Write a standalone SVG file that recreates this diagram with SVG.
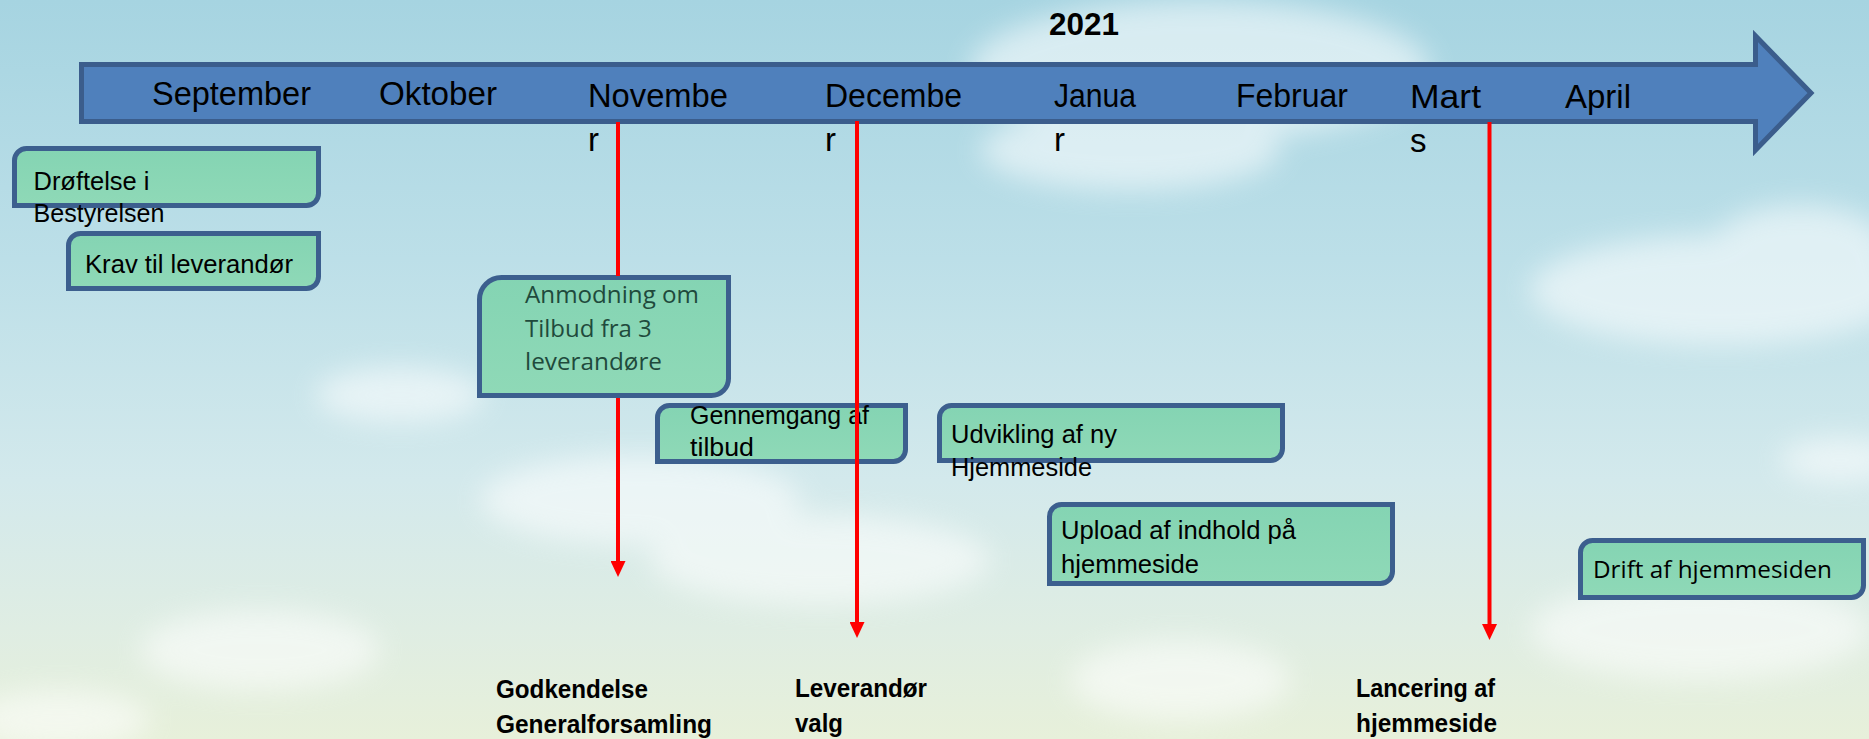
<svg xmlns="http://www.w3.org/2000/svg" width="1869" height="739" viewBox="0 0 1869 739">
<defs>
<linearGradient id="sky" x1="0" y1="0" x2="0" y2="1">
<stop offset="0" stop-color="#a6d4e1"/>
<stop offset="0.35" stop-color="#bcdfe8"/>
<stop offset="0.65" stop-color="#d3e9ec"/>
<stop offset="0.85" stop-color="#dfede3"/>
<stop offset="1" stop-color="#e7f0da"/>
</linearGradient>
<linearGradient id="boxfill" x1="0" y1="0" x2="0" y2="1">
<stop offset="0" stop-color="#84d4b3"/>
<stop offset="1" stop-color="#8fd9b7"/>
</linearGradient>
<filter id="blur" x="-20%" y="-40%" width="140%" height="180%"><feGaussianBlur stdDeviation="14"/></filter>
<marker id="redhead" viewBox="0 0 16 15" refX="0" refY="7.5" markerWidth="16" markerHeight="15" markerUnits="userSpaceOnUse" orient="auto">
<path d="M0,0 L16,7.5 L0,15 Z" fill="#ff0000"/>
</marker>
<style>
.month{font-family:"Liberation Sans",Arial,sans-serif;font-size:33px;fill:#000;}
.box{fill:url(#boxfill);stroke:#3c5f8e;stroke-width:5;}
.bt{font-family:"Liberation Sans",Arial,sans-serif;font-size:26px;fill:#000;}
.ot{font-family:"Open Sans",sans-serif;font-size:24px;}
.lbl{font-family:"Liberation Sans",Arial,sans-serif;font-size:25px;font-weight:bold;fill:#000;}
.red{stroke:#ff0000;stroke-width:4;fill:none;}
.cloud{fill:#ffffff;}
</style>
</defs>

<g id="background">
<rect x="0" y="0" width="1869" height="739" fill="url(#sky)"/>
<g filter="url(#blur)" opacity="0.55">
<ellipse class="cloud" cx="1200" cy="70" rx="230" ry="70"/>
<ellipse class="cloud" cx="1130" cy="150" rx="150" ry="40"/>
<ellipse class="cloud" cx="1720" cy="290" rx="190" ry="55"/>
<ellipse class="cloud" cx="1800" cy="250" rx="90" ry="45"/>
<ellipse class="cloud" cx="1840" cy="460" rx="60" ry="22"/>
<ellipse class="cloud" cx="400" cy="395" rx="85" ry="28"/>
<ellipse class="cloud" cx="640" cy="500" rx="160" ry="45"/>
<ellipse class="cloud" cx="820" cy="560" rx="170" ry="45"/>
<ellipse class="cloud" cx="260" cy="650" rx="120" ry="40"/>
<ellipse class="cloud" cx="60" cy="720" rx="90" ry="30"/>
<ellipse class="cloud" cx="1180" cy="680" rx="110" ry="40"/>
<ellipse class="cloud" cx="1700" cy="630" rx="170" ry="50"/>
</g>
</g>

<g id="timeline-arrow">
<path d="M81.5,64.5 H1755.5 V36 L1811,93 L1755.5,150 V121.5 H81.5 Z" fill="#4f80bc" stroke="#3b5d8c" stroke-width="5" stroke-linejoin="miter"/>
<text class="month" x="152" y="105" textLength="159" lengthAdjust="spacingAndGlyphs">September</text>
<text class="month" x="379" y="105" textLength="118" lengthAdjust="spacingAndGlyphs">Oktober</text>
<text class="month" x="588" y="107" textLength="140" lengthAdjust="spacingAndGlyphs">Novembe</text>
<text class="month" x="588" y="151">r</text>
<text class="month" x="825" y="107" textLength="137" lengthAdjust="spacingAndGlyphs">Decembe</text>
<text class="month" x="825" y="151">r</text>
<text class="month" x="1054" y="107" textLength="82" lengthAdjust="spacingAndGlyphs">Janua</text>
<text class="month" x="1054" y="151">r</text>
<text class="month" x="1236" y="107" textLength="112" lengthAdjust="spacingAndGlyphs">Februar</text>
<text class="month" x="1410" y="108" textLength="71" lengthAdjust="spacingAndGlyphs">Mart</text>
<text class="month" x="1410" y="152">s</text>
<text class="month" x="1565" y="108" textLength="66" lengthAdjust="spacingAndGlyphs">April</text>
</g>

<g id="year">
<text x="1049" y="35" font-family="Liberation Sans, Arial, sans-serif" font-size="31" font-weight="bold" fill="#000" textLength="70" lengthAdjust="spacingAndGlyphs">2021</text>
</g>

<g id="node-droeftelse">
<path class="box" d="M26.5,148.5 H318.5 V193.5 A12,12 0 0 1 306.5,205.5 H14.5 V160.5 A12,12 0 0 1 26.5,148.5 Z"/>
<text class="bt" x="33.5" y="190" textLength="116" lengthAdjust="spacingAndGlyphs">Drøftelse i</text>
<text class="bt" x="33.5" y="222" textLength="131" lengthAdjust="spacingAndGlyphs">Bestyrelsen</text>
</g>

<g id="node-krav">
<path class="box" d="M80.5,233.5 H318.5 V276.5 A12,12 0 0 1 306.5,288.5 H68.5 V245.5 A12,12 0 0 1 80.5,233.5 Z"/>
<text class="bt" x="85" y="273" textLength="208" lengthAdjust="spacingAndGlyphs">Krav til leverandør</text>
</g>

<g id="node-anmodning">
<path class="box" d="M501.5,277.5 H728.5 V378.5 A17,17 0 0 1 711.5,395.5 H479.5 V299.5 A22,22 0 0 1 501.5,277.5 Z"/>
<text class="ot" x="525" y="303" fill="#1f4a3c" textLength="174" lengthAdjust="spacingAndGlyphs">Anmodning om</text>
<text class="ot" x="525" y="337" fill="#1f4a3c">Tilbud fra 3</text>
<text class="ot" x="525" y="370" fill="#1f4a3c" textLength="137" lengthAdjust="spacingAndGlyphs">leverandøre</text>
</g>

<g id="node-gennemgang">
<path class="box" d="M669.5,405.5 H905.5 V449.5 A12,12 0 0 1 893.5,461.5 H657.5 V417.5 A12,12 0 0 1 669.5,405.5 Z"/>
<text class="bt" x="690" y="424" textLength="179" lengthAdjust="spacingAndGlyphs">Gennemgang af</text>
<text class="bt" x="690" y="456" textLength="64" lengthAdjust="spacingAndGlyphs">tilbud</text>
</g>

<g id="node-udvikling">
<path class="box" d="M951.5,405.5 H1282.5 V448.5 A12,12 0 0 1 1270.5,460.5 H939.5 V417.5 A12,12 0 0 1 951.5,405.5 Z"/>
<text class="bt" x="951" y="443" textLength="166" lengthAdjust="spacingAndGlyphs">Udvikling af ny</text>
<text class="bt" x="951" y="476" textLength="141" lengthAdjust="spacingAndGlyphs">Hjemmeside</text>
</g>

<g id="node-upload">
<path class="box" d="M1061.5,504.5 H1392.5 V571.5 A12,12 0 0 1 1380.5,583.5 H1049.5 V516.5 A12,12 0 0 1 1061.5,504.5 Z"/>
<text class="bt" x="1061" y="539" textLength="235" lengthAdjust="spacingAndGlyphs">Upload af indhold på</text>
<text class="bt" x="1061" y="573" textLength="138" lengthAdjust="spacingAndGlyphs">hjemmeside</text>
</g>

<g id="node-drift">
<path class="box" d="M1592.5,540.5 H1863.5 V585.5 A12,12 0 0 1 1851.5,597.5 H1580.5 V552.5 A12,12 0 0 1 1592.5,540.5 Z"/>
<text class="ot" x="1593" y="578" fill="#000" textLength="239" lengthAdjust="spacingAndGlyphs">Drift af hjemmesiden</text>
</g>

<g id="connectors">
<line class="red" x1="618" y1="122" x2="618" y2="276"/>
<line class="red" x1="618" y1="398" x2="618" y2="561" marker-end="url(#redhead)"/>
<line class="red" x1="857" y1="121" x2="857" y2="622" marker-end="url(#redhead)"/>
<line class="red" x1="1489.5" y1="122" x2="1489.5" y2="624" marker-end="url(#redhead)"/>
</g>

<g id="milestone-labels">
<text class="lbl" x="496" y="698" textLength="152" lengthAdjust="spacingAndGlyphs">Godkendelse</text>
<text class="lbl" x="496" y="733" textLength="216" lengthAdjust="spacingAndGlyphs">Generalforsamling</text>
<text class="lbl" x="795" y="697" textLength="132" lengthAdjust="spacingAndGlyphs">Leverandør</text>
<text class="lbl" x="795" y="732" textLength="48" lengthAdjust="spacingAndGlyphs">valg</text>
<text class="lbl" x="1356" y="697" textLength="139" lengthAdjust="spacingAndGlyphs">Lancering af</text>
<text class="lbl" x="1356" y="732" textLength="141" lengthAdjust="spacingAndGlyphs">hjemmeside</text>
</g>
</svg>
